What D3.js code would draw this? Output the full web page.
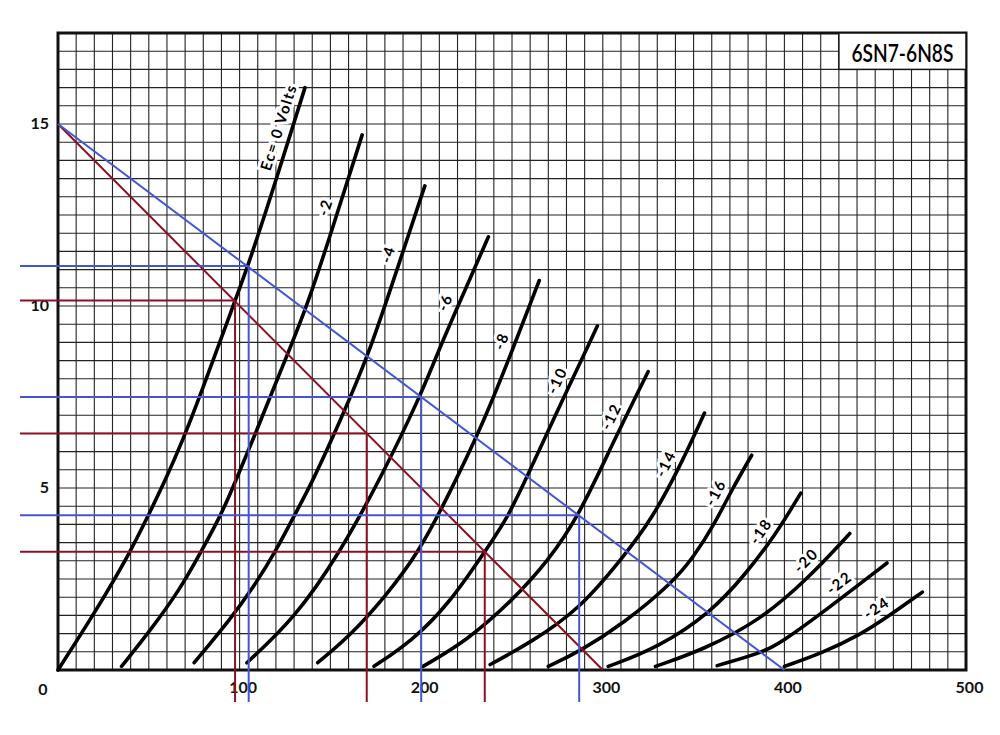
<!DOCTYPE html>
<html>
<head>
<meta charset="utf-8">
<script src="https://cdn.jsdelivr.net/npm/d3@7"></script>
<style>
  body { margin: 0; background: #fff; }
  text { font-family: Lato, "DejaVu Sans", sans-serif; }
</style>
</head>
<body>
<div id="chart"></div>
<script>
const width = 1000,
height = 735,
plot = { left: 58, right: 966, top: 33, bottom: 670 };

// plate voltage (V) / plate current (mA)
const vTicks = [100, 200, 300, 400, 500];
const iTicks = [5, 10, 15];
const titleText = '6SN7-6N8S';

const gridNames = ['Ec= 0 Volts', '-2', '-4', '-6', '-8', '-10', '-12', '-14', '-16', '-18', '-20', '-22', '-24'];
// current (mA) at which each grid label sits on its curve
const labelAtI = [14.8, 12.6, 11.3, 9.95, 8.9, 7.8, 6.8, 5.5, 4.7, 3.6, 2.75, 2.1, 1.4];

const curveEc0 = [[0, 0], [20, 1.55], [40, 3.25], [50, 4.28], [59, 5.2], [69, 6.35], [78, 7.5], [97.5, 10.15], [105, 11.15], [121, 13.6], [136, 16.0]];
const curveEc2 = [[35, 0.1], [51, 1.1], [67, 2.2], [79, 3.27], [90, 4.28], [97, 5.1], [108, 6.4], [122, 8.15], [137, 9.95], [152, 12.27], [167.5, 14.7]];
const curveEc4 = [[75, 0.2], [95, 1.4], [108, 2.3], [120, 3.27], [130.5, 4.28], [140.6, 5.22], [155, 6.8], [171, 8.65], [186, 10.9], [202, 13.3]];
const curveEc6 = [[104, 0.2], [130, 1.4], [155, 3.2], [178, 5.3], [199.3, 7.5], [208.5, 8.65], [222, 10.2], [237, 11.9]];
const curveEc8 = [[143, 0.2], [160, 0.9], [180, 2.0], [199, 3.25], [216, 4.9], [232.4, 6.59], [248, 8.5], [265, 10.7]];
const curveEc10 = [[174, 0.1], [195, 0.8], [215, 1.8], [235, 3.25], [248, 4.21], [260, 5.5], [272.7, 6.87], [297, 9.45]];
const curveEc12 = [[201, 0.1], [225, 0.8], [250, 1.9], [270, 3.0], [287, 4.25], [305.8, 6.27], [325, 8.2]];
const curveEc14 = [[238, 0.15], [260, 0.75], [287, 1.65], [312, 3.15], [327, 4.15], [342.5, 5.59], [356, 7.06]];
const curveEc16 = [[270, 0.1], [287, 0.5], [312, 1.3], [338, 2.38], [350, 3.1], [362, 4.05], [371, 4.95], [382, 5.9]];
const curveEc18 = [[303, 0.1], [330, 0.6], [360, 1.6], [378, 2.6], [395, 3.7], [409, 4.86]];
const curveEc20 = [[329, 0.1], [355, 0.55], [387, 1.37], [414, 2.56], [436, 3.75]];
const curveEc22 = [[363, 0.12], [389, 0.5], [398, 0.75], [423, 1.65], [456.5, 2.94]];
const curveEc24 = [[400, 0.1], [420, 0.45], [441.6, 0.96], [458, 1.5], [476, 2.14]];

const plateCurves = [curveEc0, curveEc2, curveEc4, curveEc6, curveEc8, curveEc10, curveEc12,
  curveEc14, curveEc16, curveEc18, curveEc20, curveEc22, curveEc24];

// load lines and their operating points
const blueLoad = [[0, 15], [400, 0]];
const redLoad = [[0, 15], [300, 0]];
const bluePoints = [[105, 11.1], [200, 7.5], [287, 4.25]];
const redPoints = [[97.5, 10.15], [170, 6.5], [235, 3.25]];

const blue = '#4455d4',
red = '#8b1022';

const svg = d3.select('#chart').
append('svg').
attr('width', width).
attr('height', height);

const x = d3.scaleLinear().domain([0, 500]).range([plot.left, plot.right]);
const y = d3.scaleLinear().domain([0, 17.5]).range([plot.bottom, plot.top]);

// grid paper
const grid = svg.append('g').attr('stroke', '#222').attr('stroke-width', 1.1);
grid.selectAll('line.v').
data(d3.range(10, 500, 10)).
enter().append('line').
attr('x1', d => x(d)).attr('x2', d => x(d)).
attr('y1', y(0)).attr('y2', y(17.5));
grid.selectAll('line.h').
data(d3.range(1, 35).map(k => k * 0.5)).
enter().append('line').
attr('y1', d => y(d)).attr('y2', d => y(d)).
attr('x1', x(0)).attr('x2', x(500));

svg.append('rect').
attr('x', x(0)).attr('y', y(17.5)).
attr('width', x(500) - x(0)).attr('height', y(0) - y(17.5)).
attr('fill', 'none').attr('stroke', '#111').attr('stroke-width', 3);

// title box
svg.append('rect').
attr('x', x(430)).attr('y', y(17.5)).
attr('width', x(500) - x(430)).attr('height', y(16.5) - y(17.5)).
attr('fill', '#fff').attr('stroke', '#111').attr('stroke-width', 1.5);
svg.append('text').
attr('x', (x(430) + x(500)) / 2).
attr('y', (y(17.5) + y(16.5)) / 2 + 1).
attr('text-anchor', 'middle').
attr('dominant-baseline', 'central').
attr('textLength', 102).
attr('lengthAdjust', 'spacingAndGlyphs').
style('font-size', '24px').
style('font-weight', 600).
text(titleText);

// axes labels
const xAxis = svg.append('g').
attr('transform', `translate(3,${y(0)})`).
call(d3.axisBottom(x).tickValues(vTicks).tickSize(0).tickPadding(12));
const yAxis = svg.append('g').
attr('transform', `translate(${x(0)},-1)`).
call(d3.axisLeft(y).tickValues(iTicks).tickSize(0).tickPadding(9));
[xAxis, yAxis].forEach(a => {
  a.select('.domain').remove();
  a.selectAll('text').
  style('font-family', 'Lato, sans-serif').
  style('font-size', '16px').
  style('font-weight', 700).
  attr('fill', '#111');
});
svg.append('text').
attr('x', x(0) - 15).attr('y', y(0) + 18).
attr('text-anchor', 'middle').
attr('dominant-baseline', 'central').
style('font-size', '16px').style('font-weight', 700).attr('fill', '#111').
text('0');

// plate curves
const line = d3.line().
x(d => x(d[0])).
y(d => y(d[1])).
curve(d3.curveBasis);

const curvePaths = svg.append('g').
selectAll('path').
data(plateCurves).
enter().append('path').
attr('d', line).
attr('fill', 'none').
attr('stroke', '#000').
attr('stroke-width', 3.6).
attr('stroke-linecap', 'round');

function pointAtI(node, iVal) {
  const L = node.getTotalLength(),
  target = y(iVal);
  let lo = 0,hi = L;
  for (let k = 0; k < 30; k++) {
    const mid = (lo + hi) / 2;
    if (node.getPointAtLength(mid).y > target) lo = mid;else hi = mid;
  }
  const p = node.getPointAtLength(lo),
  p1 = node.getPointAtLength(Math.max(0, lo - 6)),
  p2 = node.getPointAtLength(Math.min(L, lo + 6));
  const a = Math.atan2(p2.y - p1.y, p2.x - p1.x);
  return { x: p.x, y: p.y, a };
}

curvePaths.each(function (d, i) {
  const p = pointAtI(this, labelAtI[i]);
  const off = 14;
  const cx = p.x + Math.sin(p.a) * off,
  cy = p.y - Math.cos(p.a) * off;
  svg.append('text').
  attr('transform', `translate(${cx},${cy}) rotate(${p.a * 180 / Math.PI})`).
  attr('text-anchor', 'middle').
  attr('dominant-baseline', 'central').
  attr('stroke', '#fff').
  attr('stroke-width', 6).
  attr('paint-order', 'stroke').
  attr('fill', '#000').
  style('font-size', '15px').
  style('font-weight', 700).
  style('letter-spacing', '1.5px').
  text(gridNames[i]);
});

// load lines with their drop lines
const straight = d3.line().x(d => x(d[0])).y(d => y(d[1]));
function loadSet(load, points, color) {
  const g = svg.append('g').attr('stroke', color).attr('stroke-width', 2).attr('fill', 'none');
  g.append('path').attr('d', straight(load));
  g.selectAll('line.h').data(points).enter().append('line').
  attr('x1', 20).attr('x2', d => x(d[0])).
  attr('y1', d => y(d[1])).attr('y2', d => y(d[1]));
  g.selectAll('line.v').data(points).enter().append('line').
  attr('x1', d => x(d[0])).attr('x2', d => x(d[0])).
  attr('y1', d => y(d[1])).attr('y2', 702);
}
loadSet(redLoad, redPoints, red);
loadSet(blueLoad, bluePoints, blue);
</script>
</body>
</html>
